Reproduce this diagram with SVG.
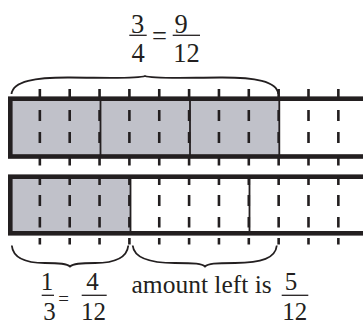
<svg xmlns="http://www.w3.org/2000/svg" width="363" height="326" viewBox="0 0 363 326">
<style>
.shade{fill:#c0c1c9;stroke:none}
.frame{fill:none;stroke:#231f20;stroke-width:4.6}
.div{stroke:#231f20;stroke-width:1.8;fill:none}
.tick{stroke:#231f20;stroke-width:2.6;fill:none}
.brace{stroke:#231f20;stroke-width:1.8;fill:none}
text{font-family:'Liberation Serif','DejaVu Serif',serif;fill:#231f20}
.num{text-anchor:middle}
.fbar{stroke:#231f20;stroke-width:1.3}
</style>
<rect width="363" height="326" fill="#ffffff"/>
<g id="bar-quarters">
<rect class="shade" x="10" y="98.7" width="269.3" height="57.8"/>
<rect class="frame" x="10.3" y="98.7" width="380" height="57.8"/>
<path class="div" d="M100.5 98.7V156.5M190 98.7V156.5M279.3 98.7V156.5"/>
</g>
<g id="bar-thirds">
<rect class="shade" x="10" y="176.7" width="120.5" height="56.6"/>
<rect class="frame" x="10.3" y="176.7" width="380" height="56.6"/>
<path class="div" d="M130.5 176.7V233.3M249.5 176.7V233.3"/>
</g>
<g id="connectors">
<path id="ticks-top" class="tick" d="M39.85 89V97M39.85 110V121M39.85 132V143M39.85 158V165.5M69.7 89V97M69.7 110V121M69.7 132V143M69.7 158V165.5M99.55 89V97M99.55 110V121M99.55 132V143M99.55 158V165.5M129.4 89V97M129.4 110V121M129.4 132V143M129.4 158V165.5M159.25 89V97M159.25 110V121M159.25 132V143M159.25 158V165.5M189.1 89V97M189.1 110V121M189.1 132V143M189.1 158V165.5M218.95 89V97M218.95 110V121M218.95 132V143M218.95 158V165.5M248.8 89V97M248.8 110V121M248.8 132V143M248.8 158V165.5M278.65 89V97M278.65 110V121M278.65 132V143M278.65 158V165.5M308.5 89V97M308.5 110V121M308.5 132V143M308.5 158V165.5M338.35 89V97M338.35 110V121M338.35 132V143M338.35 158V165.5"/>
<path id="ticks-bottom" class="tick" d="M39.85 176V185M39.85 195V206M39.85 217V227.5M39.85 238V244.5M69.7 176V185M69.7 195V206M69.7 217V227.5M69.7 238V244.5M99.55 176V185M99.55 195V206M99.55 217V227.5M99.55 238V244.5M129.4 176V185M129.4 195V206M129.4 217V227.5M129.4 238V244.5M159.25 176V185M159.25 195V206M159.25 217V227.5M159.25 238V244.5M189.1 176V185M189.1 195V206M189.1 217V227.5M189.1 238V244.5M218.95 176V185M218.95 195V206M218.95 217V227.5M218.95 238V244.5M248.8 176V185M248.8 195V206M248.8 217V227.5M248.8 238V244.5M278.65 176V185M278.65 195V206M278.65 217V227.5M278.65 238V244.5M308.5 176V185M308.5 195V206M308.5 217V227.5M308.5 238V244.5M338.35 176V185M338.35 195V206M338.35 217V227.5M338.35 238V244.5"/>
<path id="brace-top" class="brace" d="M11.5 94C13 81 35 77.3 70 77.5C110 77.8 138 79 145 76C152 79 180 77.8 220 77.5C255 77.3 277 81 278.3 94"/>
<path id="brace-third" class="brace" d="M11.8 245.5C13 258 25 263 45 263C60 263 67 263.5 70 266.5C73 263.5 80 263 95 263C115 263 127 258 128.3 245.5"/>
<path id="brace-left" class="brace" d="M132.7 245.5C134 258 150 263 175 263C195 263 202 263.5 205 266.5C208 263.5 215 263 235 263C262 263 275.5 258 276.8 245.5"/>
</g>
<g id="label-top">
<text class="num" x="137.5" y="33" font-size="26.5">3</text>
<line class="fbar" x1="129.3" y1="35.3" x2="146.7" y2="35.3"/>
<text class="num" x="138" y="61.5" font-size="26.5">4</text>
<text class="num" x="159.5" y="45" font-size="26.5">=</text>
<text class="num" x="181" y="33" font-size="26.5">9</text>
<line class="fbar" x1="172.7" y1="35.3" x2="200" y2="35.3"/>
<text class="num" x="186.5" y="61.5" font-size="26.5">12</text>
</g>
<g id="label-bottom">
<text class="num" x="47" y="290" font-size="25">1</text>
<line class="fbar" x1="41.7" y1="295.3" x2="54" y2="295.3"/>
<text class="num" x="49.5" y="319.5" font-size="25">3</text>
<text class="num" x="63.5" y="305" font-size="19">=</text>
<text class="num" x="92.5" y="290" font-size="25">4</text>
<line class="fbar" x1="81.7" y1="295.3" x2="106.7" y2="295.3"/>
<text class="num" x="93.5" y="319.5" font-size="25">12</text>
<text x="131.5" y="293.3" font-size="25.5">amount left is</text>
<text class="num" x="291" y="290" font-size="25">5</text>
<line class="fbar" x1="281.7" y1="295.3" x2="308.3" y2="295.3"/>
<text class="num" x="294.7" y="319.5" font-size="25">12</text>
</g>
</svg>
